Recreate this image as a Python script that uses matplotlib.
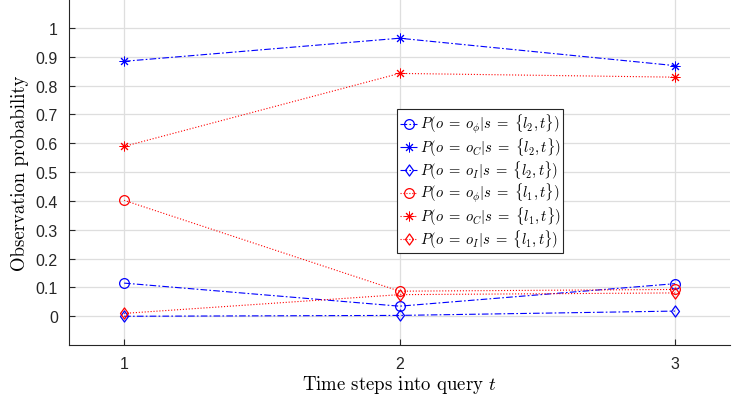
import numpy as np
import matplotlib
matplotlib.use('Agg')
import matplotlib.pyplot as plt
from matplotlib.path import Path

plt.rcParams['mathtext.fontset'] = 'cm'
plt.rcParams['font.family'] = ['Liberation Sans', 'DejaVu Sans']

# time steps
steps = [1, 2, 3]

# l2 series (blue)
p_phi_l2 = [0.115, 0.035, 0.113]
p_C_l2   = [0.884, 0.964, 0.869]
p_I_l2   = [0.000, 0.003, 0.018]
# l1 series (red)
p_phi_l1 = [0.402, 0.087, 0.093]
p_C_l1   = [0.589, 0.842, 0.829]
p_I_l1   = [0.010, 0.075, 0.081]

labels = [r'$P(o\;=\;o_\phi|s\;=\;\{l_2,t\})$',
          r'$P(o\;=\;o_C|s\;=\;\{l_2,t\})$',
          r'$P(o\;=\;o_I|s\;=\;\{l_2,t\})$',
          r'$P(o\;=\;o_\phi|s\;=\;\{l_1,t\})$',
          r'$P(o\;=\;o_C|s\;=\;\{l_1,t\})$',
          r'$P(o\;=\;o_I|s\;=\;\{l_1,t\})$']

star = (8, 2, 0)
# matlab-ish diamond, a bit narrower than a square
diamond = Path([(0, 1), (0.72, 0), (0, -1), (-0.72, 0), (0, 1)],
               [Path.MOVETO, Path.LINETO, Path.LINETO, Path.LINETO, Path.CLOSEPOLY])

fig = plt.figure(figsize=(7.51, 4.02), dpi=100)
ax = fig.add_axes([0.0919, 0.139, 0.8802, 0.861])

dashdot = (0, (6, 2, 1.5, 2))
kw_b = dict(color='blue', lw=0.8, linestyle=dashdot, mfc='none')
kw_r = dict(color='red', lw=0.8, linestyle=':', mfc='none')

ax.plot(steps, p_phi_l2, marker='o', ms=7, mew=0.9, label=labels[0], **kw_b)
ax.plot(steps, p_C_l2, marker=star, ms=7, mew=0.7, label=labels[1], **kw_b)
ax.plot(steps, p_I_l2, marker=diamond, ms=8, mew=0.9, label=labels[2], **kw_b)
ax.plot(steps, p_phi_l1, marker='o', ms=7, mew=0.9, label=labels[3], **kw_r)
ax.plot(steps, p_C_l1, marker=star, ms=7, mew=0.7, label=labels[4], **kw_r)
ax.plot(steps, p_I_l1, marker=diamond, ms=8, mew=0.9, label=labels[5], **kw_r)

ax.set_xlim(0.8, 3.2)
ax.set_ylim(-0.1, 1.1)
ax.set_xticks(steps)
ax.set_yticks(np.round(np.arange(0, 1.01, 0.1), 1))
ax.set_yticklabels(['0'] + ['%.1f' % v for v in np.arange(0.1, 0.95, 0.1)] + ['1'])
ax.grid(True, color='#dedede', lw=0.9)
ax.set_axisbelow(True)
for s in ['top', 'right']:
    ax.spines[s].set_visible(False)
for s in ['left', 'bottom']:
    ax.spines[s].set_color('#262626')
    ax.spines[s].set_linewidth(0.8)
ax.tick_params(direction='in', length=4, width=0.8, colors='#262626', labelsize=11.5, pad=8)

ax.set_xlabel(r'Time steps into query $t$', family='cmr10', fontsize=13.5, labelpad=1)
ax.set_ylabel('Observation probability', family='cmr10', fontsize=13.5, labelpad=5)

leg = ax.legend(loc='center', bbox_to_anchor=(0.622, 0.474), fontsize=10.5,
                handlelength=1.2, handletextpad=0.15, labelspacing=0.0,
                borderpad=0.2, borderaxespad=0, fancybox=False, framealpha=1)
leg.get_frame().set_edgecolor('#262626')
leg.get_frame().set_linewidth(0.8)

fig.savefig('out.png', dpi=100)
